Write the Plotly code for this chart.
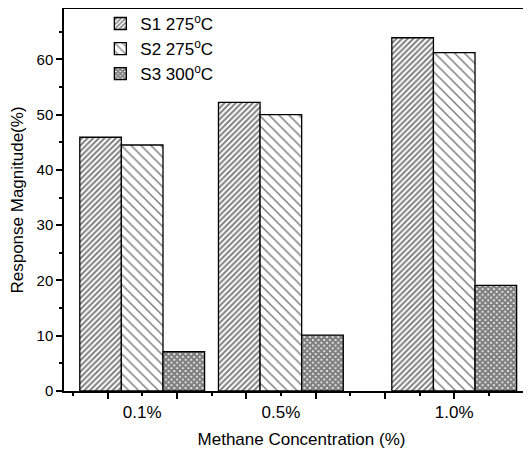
import plotly.graph_objects as go

concentrations = [0.1, 0.5, 1.0]
tick_labels = ["0.1%", "0.5%", "1.0%"]
series_names = ["S1 275<sup>o</sup>C", "S2 275<sup>o</sup>C", "S3 300<sup>o</sup>C"]
s1_values = [45.9, 52.2, 63.9]
s2_values = [44.5, 50.0, 61.2]
s3_values = [7.1, 10.1, 19.1]

patterns = [
    dict(shape="/", size=4, solidity=0.5),
    dict(shape="\\", size=7, solidity=0.22),
    dict(shape="x", size=4, solidity=0.8),
]

FONT = "Liberation Sans, Arial, sans-serif"

fig = go.Figure()
for name, vals, pat in zip(series_names, [s1_values, s2_values, s3_values], patterns):
    fig.add_trace(go.Bar(
        x=concentrations, y=vals, name=name, legendgroup=name,
        marker=dict(color="white", line=dict(color="black", width=1.3),
                    pattern=dict(fgcolor="black", bgcolor="white", **pat)),
    ))

# invisible helper trace so that the tick-mark axis is drawn
fig.add_trace(go.Scatter(x=[], y=[], xaxis="x2", showlegend=False))

xr = [-0.1255, 1.2445]
fig.update_layout(
    width=531, height=446,
    margin=dict(l=56, r=0, t=1, b=63, autoexpand=False),
    paper_bgcolor="white", plot_bgcolor="white",
    barmode="group", bargap=0.1, bargroupgap=0,
    font=dict(family=FONT, color="black", size=15),
    showlegend=True,
    legend=dict(x=0.0765, y=1.008, xanchor="left", yanchor="top",
                bgcolor="rgba(0,0,0,0)", font=dict(size=17),
                traceorder="grouped", tracegroupgap=0),
    xaxis=dict(range=xr, tickmode="array", tickvals=concentrations, ticktext=tick_labels,
               ticks="outside", ticklen=5, tickcolor="rgba(0,0,0,0)", automargin=False,
               showline=True, linecolor="black", linewidth=1.5, mirror=True,
               showgrid=False, zeroline=False, tickfont=dict(size=17),
               title=dict(text="Methane Concentration (%)", font=dict(size=17), standoff=12)),
    xaxis2=dict(range=xr, overlaying="x", anchor="y", side="bottom", automargin=False,
                tickmode="linear", tick0=0, dtick=0.2, ticks="outside", ticklen=7,
                tickwidth=1.5, tickcolor="black", showticklabels=False,
                minor=dict(tickmode="linear", tick0=0, dtick=0.1, ticks="outside", ticklen=4,
                           tickwidth=1.5, tickcolor="black"),
                showline=False, showgrid=False, zeroline=False),
    yaxis=dict(range=[0, 69.1], tickmode="linear", tick0=0, dtick=10, automargin=False,
               ticks="outside", ticklen=6, tickwidth=1.5, tickcolor="black",
               minor=dict(tickmode="linear", tick0=0, dtick=5, ticks="outside", ticklen=3,
                          tickwidth=1.5, tickcolor="black"),
               showline=True, linecolor="black", linewidth=1.5, mirror=False,
               showgrid=False, zeroline=False, tickfont=dict(size=15),
               title=dict(text="Response Magnitude(%)", font=dict(size=17), standoff=12)),
)

fig.write_html("out.html")
